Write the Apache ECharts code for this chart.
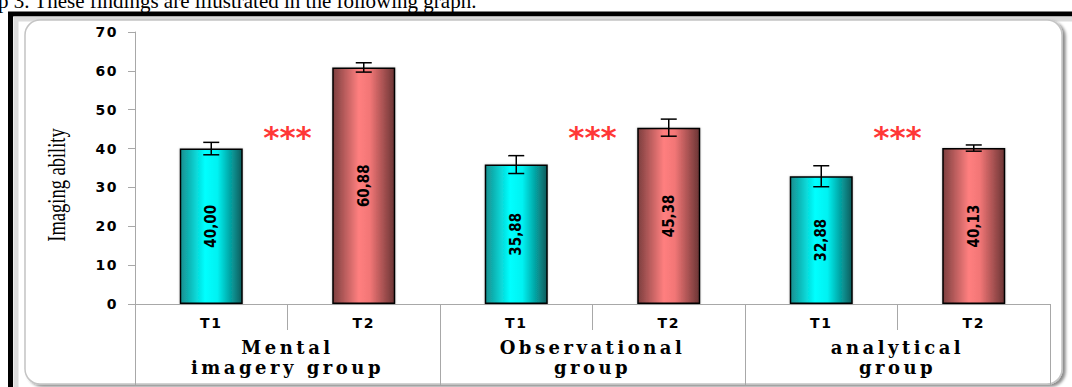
<!DOCTYPE html>
<html>
<head>
<meta charset="utf-8">
<script src="https://cdn.jsdelivr.net/npm/echarts@6/dist/echarts.min.js"></script>
<style>
  html, body { margin: 0; padding: 0; background: #fff; }
  #chart { width: 1072px; height: 387px; }
  /* wide tracking for the group captions and the axis numerals */
  #chart text[style*="DejaVu Serif"] { letter-spacing: 3.5px; }
  #chart text[style*="Verdana"] { letter-spacing: 1.5px; }
</style>
</head>
<body>
<div id="chart"></div>
<script>
// Groups and measurement times
const groups = ['Mental\nimagery group', 'Observational\ngroup', 'analytical\ngroup'];
const phases = ['T1', 'T2', 'T1', 'T2', 'T1', 'T2'];
// Mean imaging ability per group and time, with error-bar half widths
const means = [40.00, 60.88, 35.88, 45.38, 32.88, 40.13];
const errors = [1.6, 1.2, 2.3, 2.2, 2.7, 0.8];
// Significance marks sit between T1 and T2 of each group
const starX = [1, 3, 5];
const starY = [43, 43, 43];
const yTicks = [0, 10, 20, 30, 40, 50, 60, 70];

const chart = echarts.init(document.getElementById('chart'), null, { renderer: 'svg' });

const cyan = new echarts.graphic.LinearGradient(0, 0, 1, 0, [
  { offset: 0, color: '#178f8f' },
  { offset: 0.4, color: '#00ffff' },
  { offset: 0.6, color: '#00f2f2' },
  { offset: 1, color: '#0b5c5c' }
]);
const pink = new echarts.graphic.LinearGradient(0, 0, 1, 0, [
  { offset: 0, color: '#7d3f3f' },
  { offset: 0.42, color: '#ff7f7f' },
  { offset: 0.6, color: '#f27676' },
  { offset: 1, color: '#6a3434' }
]);

const axisGray = '#a8a8a8';

chart.setOption({
  animation: false,
  graphic: [
    { type: 'rect', z: -10, silent: true,
      shape: { x: 10.5, y: 14, width: 1100, height: 420 },
      style: { fill: 'none', stroke: '#000', lineWidth: 5 } },
    { type: 'rect', z: -10, silent: true,
      shape: { x: 16, y: 19, width: 1100, height: 420 },
      style: { fill: 'none', stroke: '#dcdcdc', lineWidth: 5 } },
    { type: 'rect', z: -9, silent: true,
      shape: { x: 25, y: 20, width: 1037, height: 364, r: 15 },
      style: { fill: '#fff', stroke: '#c4c4c4', lineWidth: 1.5,
               shadowBlur: 3, shadowOffsetX: 3, shadowOffsetY: 2, shadowColor: 'rgba(0,0,0,0.45)' } },
    { type: 'text', silent: true, x: -2, y: 11,
      style: { text: 'p 3. These findings are illustrated in the following graph.',
               font: '21px "Liberation Serif"', fill: '#000', verticalAlign: 'bottom' } },
    { type: 'text', silent: true, x: 56, y: 185, rotation: Math.PI / 2, scaleX: 0.74,
      style: { text: 'Imaging ability', font: '25px "Liberation Serif"', fill: '#000',
               align: 'center', verticalAlign: 'middle' } }
  ],
  grid: { left: 135, right: 22, top: 32, bottom: 83 },
  xAxis: [
    {
      type: 'category', data: phases, position: 'bottom',
      axisLine: { show: true, lineStyle: { color: axisGray, width: 1 } },
      axisTick: { show: true, length: 26, lineStyle: { color: axisGray } },
      axisLabel: { margin: 12, color: '#000', fontFamily: 'DejaVu Sans, Verdana', fontWeight: 'bold', fontSize: 14 }
    },
    {
      type: 'category', data: groups, position: 'bottom',
      axisLine: { show: false },
      axisTick: { show: true, length: 81, lineStyle: { color: axisGray } },
      axisLabel: { margin: 33, color: '#000', fontFamily: 'DejaVu Serif', fontWeight: 'bold',
                   fontSize: 18, lineHeight: 20 }
    },
    { type: 'value', min: 0, max: 6, show: false }
  ],
  yAxis: {
    type: 'value', min: yTicks[0], max: yTicks[yTicks.length - 1], interval: yTicks[1] - yTicks[0],
    splitLine: { show: false },
    axisLine: { show: true, lineStyle: { color: axisGray } },
    axisTick: { show: true, length: 7, lineStyle: { color: axisGray } },
    axisLabel: { margin: 17, color: '#000', fontFamily: 'DejaVu Sans, Verdana', fontWeight: 'bold', fontSize: 14 }
  },
  series: [
    {
      type: 'bar', xAxisIndex: 0, barWidth: 63,
      data: means.map((v, i) => ({ value: v, itemStyle: { color: i % 2 ? pink : cyan } })),
      itemStyle: { borderColor: '#000', borderWidth: 1.5,
                   shadowBlur: 2, shadowColor: 'rgba(0,0,0,0.25)' },
      label: {
        show: true, position: 'inside', rotate: 90,
        formatter: p => p.value.toFixed(2).replace('.', ','),
        color: '#000', fontWeight: 'bold', fontSize: 15,
        fontFamily: '"Liberation Sans Narrow", "DejaVu Sans Condensed", sans-serif'
      }
    },
    {
      type: 'custom', xAxisIndex: 0, z: 5,
      data: means.map((m, i) => [i, m, errors[i]]),
      encode: { x: 0, y: 1 },
      renderItem: (params, api) => {
        const i = api.value(0), m = api.value(1), e = api.value(2);
        const hi = api.coord([i, m + e]);
        const lo = api.coord([i, m - e]);
        const w = 8;
        const st = { stroke: '#000', lineWidth: 1.5 };
        return {
          type: 'group',
          children: [
            { type: 'line', shape: { x1: hi[0], y1: hi[1], x2: lo[0], y2: lo[1] }, style: st },
            { type: 'line', shape: { x1: hi[0] - w, y1: hi[1], x2: hi[0] + w, y2: hi[1] }, style: st },
            { type: 'line', shape: { x1: lo[0] - w, y1: lo[1], x2: lo[0] + w, y2: lo[1] }, style: st }
          ]
        };
      }
    },
    {
      type: 'scatter', xAxisIndex: 2, symbolSize: 0, silent: true,
      data: starX.map((x, i) => [x, starY[i]]),
      label: {
        show: true, position: 'inside', formatter: '***',
        color: '#ff0000', fontFamily: 'DejaVu Sans', fontWeight: 'bold', fontSize: 31
      }
    }
  ]
});
</script>
</body>
</html>
